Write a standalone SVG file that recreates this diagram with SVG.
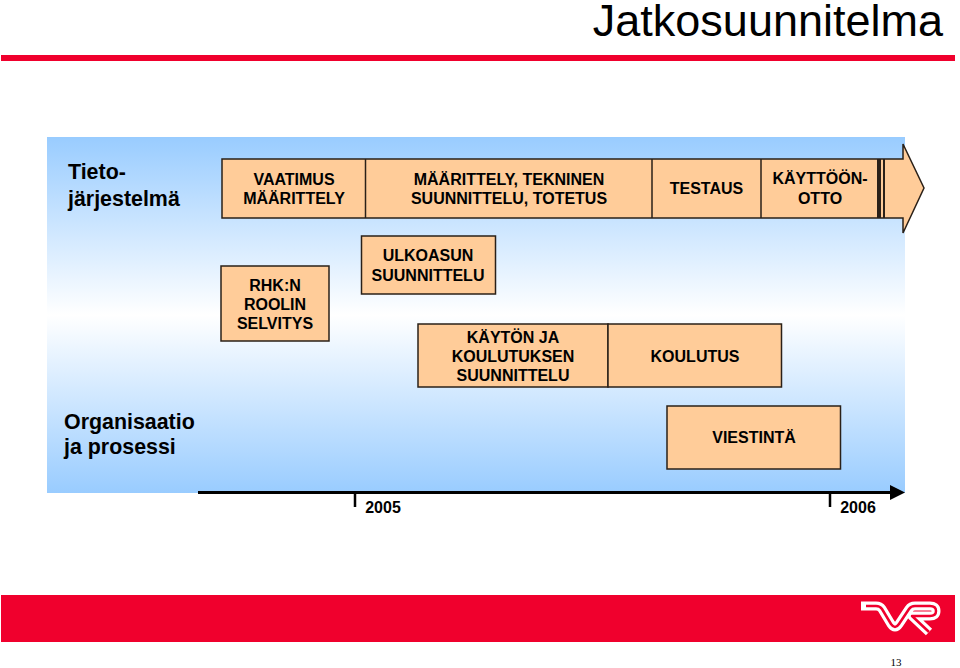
<svg xmlns="http://www.w3.org/2000/svg" width="960" height="668" viewBox="0 0 960 668">
<style>
text{font-family:"Liberation Sans",Arial,sans-serif;fill:#000;text-anchor:middle}
.b{font-size:16px;font-weight:bold}
.l{font-size:21.400px;font-weight:bold;text-anchor:start}
.box{fill:#FFCC99;stroke:#2a2018;stroke-width:1.5}
.ln{fill:none;stroke:#2a2018;stroke-width:1.5}
</style>
<defs>
<linearGradient id="g" x1="0" y1="0" x2="0" y2="1"><stop offset="0" stop-color="#99CCFF"/><stop offset="0.5" stop-color="#FFFFFF"/><stop offset="1" stop-color="#99CCFF"/></linearGradient>
</defs>
<rect width="960" height="668" fill="#fff"/>
<text x="943" y="36" style="text-anchor:end;font-size:45px">Jatkosuunnitelma</text>
<rect x="1" y="55" width="954" height="6" fill="#F0002D"/>
<rect x="47" y="137" width="858" height="356" fill="url(#g)"/>
<text class="l" x="68" y="179">Tieto-</text>
<text class="l" x="68" y="206">järjestelmä</text>
<text class="l" x="64" y="429">Organisaatio</text>
<text class="l" x="64" y="454">ja prosessi</text>
<g id="main-arrow">
<path class="box" d="M222 159H903V144L924 188L903 233V218H222Z"/>
<path d="M879 159V218" stroke="#2a2018" stroke-width="4" fill="none"/>
<path d="M884 159V218" stroke="#2a2018" stroke-width="2" fill="none"/>
</g>
<g id="vaatimus"><path class="ln" d="M365.500 159V218"/><text class="b" x="294" y="185">VAATIMUS</text><text class="b" x="294" y="204">MÄÄRITTELY</text></g>
<g id="maarittely"><path class="ln" d="M652 159V218"/><text class="b" x="509" y="185">MÄÄRITTELY, TEKNINEN</text><text class="b" x="509" y="204">SUUNNITTELU, TOTETUS</text></g>
<g id="testaus"><path class="ln" d="M761 159V218"/><text class="b" x="706.500" y="194">TESTAUS</text></g>
<g id="kayttoonotto"><text class="b" x="820" y="184">KÄYTTÖÖN-</text><text class="b" x="820" y="204">OTTO</text></g>
<g id="rhk"><rect class="box" x="221" y="266" width="108" height="75"/><text class="b" x="275" y="291">RHK:N</text><text class="b" x="275" y="310">ROOLIN</text><text class="b" x="275" y="329">SELVITYS</text></g>
<g id="ulkoasun"><rect class="box" x="361.500" y="236" width="134" height="58"/><text class="b" x="428" y="261">ULKOASUN</text><text class="b" x="428" y="281">SUUNNITTELU</text></g>
<g id="kayton"><rect class="box" x="418" y="324" width="190" height="63"/><text class="b" x="513" y="343">KÄYTÖN JA</text><text class="b" x="513" y="362">KOULUTUKSEN</text><text class="b" x="513" y="381">SUUNNITTELU</text></g>
<g id="koulutus"><rect class="box" x="608" y="324" width="173.500" height="63"/><text class="b" x="695" y="362">KOULUTUS</text></g>
<g id="viestinta"><rect class="box" x="667" y="406" width="173.500" height="63"/><text class="b" x="754" y="443">VIESTINTÄ</text></g>
<g id="connectors">
<path d="M198 492.500H892" stroke="#000" stroke-width="3" fill="none"/>
<path d="M890 485L905 492.500L890 500Z" fill="#000"/>
<path d="M355 492V507M830 492V507" stroke="#000" stroke-width="2.500" fill="none"/>
</g>
<text class="b" x="383" y="513">2005</text>
<text class="b" x="858" y="513">2006</text>
<g id="footer">
<rect x="1" y="595" width="954" height="47" fill="#F0002D"/>
<g fill="none" stroke-linejoin="round">
<path d="M861 606H876Q880 606 882 609L891 624Q895 630 899 624L909 609Q911 606 915 606H930Q936 606 936 611Q936 616 930 616H912L929 632" stroke="#fff" stroke-width="9"/>
<path d="M866 606H876Q880 606 882 609L891 624Q895 630 899 624L909 609Q911 606 915 606H930Q936 606 936 611Q936 616 930 616H912L929 632" stroke="#F0002D" stroke-width="2.500"/>
</g>
</g>
<text x="896" y="666" style="font-family:'Liberation Serif',serif;font-size:11px">13</text>
</svg>
